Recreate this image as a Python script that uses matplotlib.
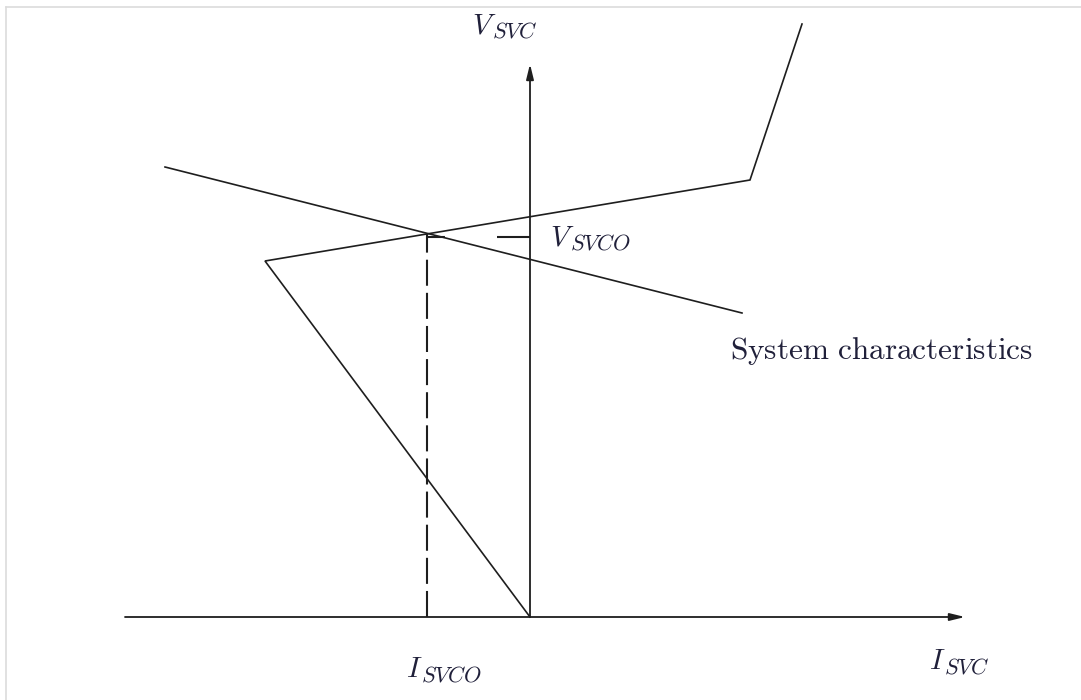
import matplotlib.pyplot as plt
from matplotlib.lines import Line2D

plt.rcParams['mathtext.fontset'] = 'cm'

# SVC steady-state characteristic (current, voltage)
svc_I = [0.0, -2.65, 2.20, 2.72]
svc_V = [0.0, 3.56, 4.37, 5.93]

# system load line
sys_I = [-3.65, 2.12]
sys_V = [4.50, 3.04]

# operating point
I_svco = -1.03
V_svco = 3.83

# axes extents
I_min, I_max = -4.05, 4.35
V_top = 5.53

ink = '#1e1e1e'
txt = '#20203a'

fig = plt.figure(figsize=(10.81, 7.0), dpi=100)
ax = fig.add_axes([0, 0, 1, 1])
ax.set_xlim(-5.30, 5.51)
ax.set_ylim(-0.83, 6.17)
ax.axis('off')

# frame lines of the page
fig.add_artist(Line2D([6 / 1081, 1], [1 - 7 / 700, 1 - 7 / 700], color='#dcdcdc', lw=1.2))
fig.add_artist(Line2D([6 / 1081, 6 / 1081], [0, 1 - 7 / 700], color='#dcdcdc', lw=1.2))

# axes with arrows
arrow = dict(arrowstyle='-|>,head_length=0.9,head_width=0.22', color=ink, lw=1.3,
             shrinkA=0, shrinkB=0)
ax.annotate('', xy=(I_max, 0), xytext=(I_min, 0), arrowprops=arrow)
ax.annotate('', xy=(0, V_top), xytext=(0, 0), arrowprops=arrow)

# characteristics
ax.plot(svc_I, svc_V, color=ink, lw=1.2, solid_joinstyle='miter')
ax.plot(sys_I, sys_V, color=ink, lw=1.2)

# dashed projections of the operating point
vline, = ax.plot([I_svco, I_svco], [0, V_svco], color=ink, lw=1.5)
vline.set_dashes([12.5, 3.4])
hline, = ax.plot([I_svco, 0], [V_svco - 0.03, V_svco - 0.03], color=ink, lw=1.5)
hline.set_dashes([8.6, 25, 20, 5])


def label(x, y, main, sub):
    # symbol with a subscript set a bit larger than mathtext would
    ax.text(x, y, '$%s$' % main, fontsize=21, color=txt, ha='left', va='baseline')
    sx = x + (0.20 if main == 'V' else 0.15)
    ax.text(sx, y - 0.04, '$%s$' % sub, fontsize=16, color=txt, ha='left', va='baseline')


label(-0.58, 5.84, 'V', 'SVC')
label(3.99, -0.52, 'I', 'SVC')
label(-1.24, -0.60, 'I', 'SVCO')
label(0.20, 3.72, 'V', 'SVCO')

ax.text(2.00, 2.66, r'$\mathrm{System\ characteristics}$', fontsize=22.5, color=txt,
        ha='left', va='center')

fig.savefig('out.png', dpi=100)
